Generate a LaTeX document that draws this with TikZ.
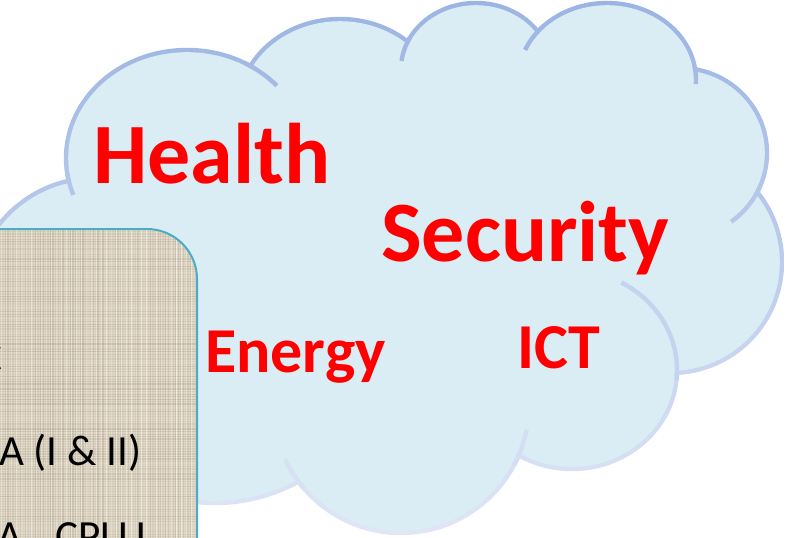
\documentclass[tikz,border=0pt]{standalone}
\usepackage{fontspec}
\setmainfont{Carlito}
\usepackage{xcolor}
\usetikzlibrary{
    arrows.meta,
    shapes,
    positioning,
    calc
}

\definecolor{cloudfill}{RGB}{219,237,244}
\definecolor{cloudtop}{RGB}{155,180,227}
\definecolor{cloudbot}{RGB}{224,230,246}
\definecolor{burlap}{RGB}{226,217,200}
\definecolor{burlapdark}{RGB}{150,138,115}
\definecolor{panelrim}{RGB}{75,172,198}
\definecolor{topicred}{RGB}{255,0,0}

% bumps of the cloud: centre x / centre y / x radius / y radius
\newcommand{\cloudbumps}{95/300/122/122, 187/158/121/108, 340/109/102/90, 476/69/75/66, 607/80/89/77, 680/153/87/85, 671/262/111/111, 572/370/105/99, 401/405/128/128, 215/330/173/173}
% inner strokes: centre x / centre y / x radius / y radius / from / to / mix
\newcommand{\cloudhints}{187/158/121/108/172/160/34, 187/158/121/108/-62/-42/13, 476/69/75/66/208/187/10, 607/80/89/77/224/203/8, 607/80/89/77/-10/3/14, 680/153/87/85/22/54/39, 572/370/105/99/6/-62/61, 401/405/128/128/28/11/83, 401/405/128/128/140/155/88}

\tikzset{
    topic/.style={anchor=base west, inner sep=0pt, text=topicred, font=\bfseries\fontsize{86}{86}\selectfont},
    subtopic/.style={topic, font=\bfseries\fontsize{64}{64}\selectfont},
    listline/.style={anchor=base west, inner sep=0pt, text=black, font=\fontsize{43}{43}\selectfont},
    panel/.style={draw=panelrim, line width=2pt, rounded corners=50pt}
}

\begin{document}
\begin{tikzpicture}[x=1pt, y=-1pt]
    \useasboundingbox (0,0) rectangle (788,538);
    \clip (0,0) rectangle (788,538);

    % cloud: rim, body, inner strokes
    \shade[top color=cloudtop, bottom color=cloudbot]
        \foreach \cx/\cy/\a/\b in \cloudbumps {(\cx,\cy) ellipse [x radius=\a+2.2, y radius=\b+2.2]};
    \fill[cloudfill]
        \foreach \cx/\cy/\a/\b in \cloudbumps {(\cx,\cy) ellipse [x radius=\a-2.2, y radius=\b-2.2]};
    \fill[cloudfill] (95,300) -- (187,158) -- (340,109) -- (476,69) -- (607,80) -- (680,153)
        -- (671,262) -- (572,370) -- (401,405) -- (215,330) -- cycle;
    \foreach \cx/\cy/\a/\b/\s/\e/\m in \cloudhints{
        \draw[cloudbot!\m!cloudtop, line width=4.4pt] (\cx,\cy) ++({\a*cos(\s)},{\b*sin(\s)})
            arc [start angle=\s, end angle=\e, x radius=\a, y radius=\b];
    }

    \node[topic] (health) at (93,183) {Health};
    \node[topic] (security) at (381,261) {Security};
    \node[subtopic] (energy) at (205,372) {Energy};
    \node[subtopic] (ict) at (517,368) {ICT};

    % textured panel on the left
    \begin{scope}
        \clip[rounded corners=50pt] (-60,229) rectangle (197,640);
        \fill[burlap] (-60,229) rectangle (197,640);
        \pgfmathsetseed{7}
        \foreach \i in {0,...,80}{
            \pgfmathsetmacro{\o}{0.04+0.26*rnd}
            \pgfmathsetmacro{\w}{0.5+1.2*rnd}
            \draw[burlapdark, opacity=\o, line width=\w pt] (\i*2.5-2,229) -- ++(0,320);
        }
        \foreach \j in {0,...,125}{
            \pgfmathsetmacro{\o}{0.04+0.26*rnd}
            \pgfmathsetmacro{\w}{0.5+1.2*rnd}
            \draw[burlapdark, opacity=\o, line width=\w pt] (-2,229+\j*2.5) -- ++(200,0);
        }
        \foreach \i in {0,...,40}{
            \pgfmathsetmacro{\o}{0.1+0.4*rnd}
            \draw[white, opacity=\o, line width=0.8pt] (\i*5+1,229) -- ++(0,320);
        }
    \end{scope}
    \draw[panel] (-60,229) rectangle (197,640);

    \node[listline] (lineone) at (-20.5,372) {C};
    \node[listline] (linetwo) at (-1,465) {A (I \& II)};
    \node[listline] (linethree) at (-3,550) {A,\hspace{.3em} CPLU};
\end{tikzpicture}
\end{document}
